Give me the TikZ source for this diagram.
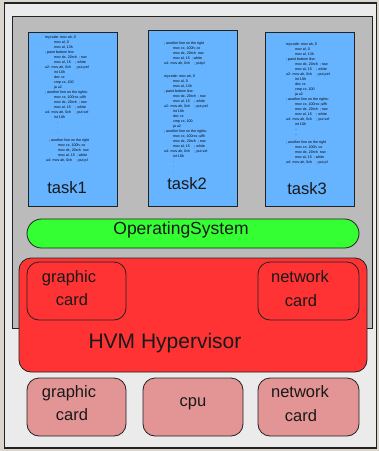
\documentclass[tikz,border=0pt]{standalone}
\usepackage{fontspec}
\setmainfont{Liberation Sans}
\definecolor{bgout}{HTML}{DAD6CE}
\definecolor{frame}{HTML}{EBEBEB}
\definecolor{grayarea}{HTML}{BBBBBB}
\definecolor{taskblue}{HTML}{66B3FF}
\definecolor{osgreen}{HTML}{33FF33}
\definecolor{hvred}{HTML}{FF3333}
\definecolor{hwpink}{HTML}{E39494}
\definecolor{edge}{HTML}{222222}
\newcommand{\ind}{\hspace*{9pt}}
\newcommand{\codefont}{\fontsize{3.6pt}{5pt}\selectfont}
\tikzset{
  taskbox/.style={draw=edge, line width=1pt, fill=taskblue},
  codetext/.style={anchor=base west, inner sep=0pt, text=black},
  biglabel/.style={anchor=base, inner sep=0pt, text=black!90},
  cardbox/.style={draw=edge, line width=0.8pt, rounded corners=12pt},
}
\begin{document}
\begin{tikzpicture}[x=1pt, y=-1pt]
\useasboundingbox (0,0) rectangle (379,451);
\fill[bgout] (0,0) rectangle (379,451);
% outer frame and gray area
\draw[fill=frame, draw=edge, line width=1.2pt] (4.5,3) rectangle (376.5,448);
\draw[fill=grayarea, draw=edge, line width=1pt] (12.5,16) rectangle (372,328);
% tasks
\draw[taskbox] (28,32) rectangle (117,206);
\draw[taskbox] (148,30) rectangle (237,206);
\draw[taskbox] (265,32) rectangle (354,206);
\coordinate (c1) at (45,38.5);
\coordinate (c2) at (164,44.5);
\coordinate (c3) at (286,45.5);
\node[codetext] (code1) at (c1) {\parbox[t]{70pt}{\codefont
mycode: mov ah, 0\\
\ind mov al, 0\\
\ind mov al, 13h\\
; paint bottom line:\\
\ind mov dx, 20rch \ ; row\\
\ind mov al, 15 \quad ; white\\
u2: mov ah, 0ch \quad ; put pel\\
\ind int 10h\\
\ind dec cx\\
\ind cmp cx, 100\\
\ind ja u2\\
; another line on the rights:\\
\ind mov cx, 100rcx ;ulfh\\
\ind mov dx, 20rch \ ; row\\
\ind mov al, 15 \quad ; white\\
u4: mov ah, 0ch \quad ; put sel\\
\ind int 10h\\
\hspace*{12pt}.\\
\hspace*{12pt}.\\
\hspace*{12pt}.\\[2.5pt]
\hspace*{4pt}; another line on the right\\
\hspace*{13pt}mov cx, 100h; co\\
\hspace*{13pt}mov dx, 20rch \ row\\
\hspace*{13pt}mov al, 15 \ ; white\\
\hspace*{1pt}u4: mov ah, 0ch \quad ; put pl}};
\node[codetext] (code2) at (c2) {\parbox[t]{70pt}{\codefont
; another line on the right\\
\ind mov cx, 100h; co\\
\ind mov dx, 20rch \ row\\
\ind mov al, 15 \ ; white\\
u4: mov ah, 0ch \quad ; putpl\\[8.3pt]
mycode: mov ah, 0\\
\ind mov al, 0\\
\ind mov al, 13h\\
; paint bottom line:\\
\ind mov dx, 20rch \ ; row\\
\ind mov al, 15 \quad ; white\\
u2: mov ah, 0ch \quad ; put pel\\
\ind int 10h\\
\ind dec cx\\
\ind cmp cx, 100\\
\ind ja u2\\
; another line on the rights:\\
\ind mov cx, 100rcx ;ulfh\\
\ind mov dx, 20rch \ ; row\\
\ind mov al, 15 \quad ; white\\
u4: mov ah, 0ch \quad ; put sel\\
\ind int 10h\\
\ind .\\
\ind .\\
\ind .}};
\node[codetext] (code3) at (c3) {\parbox[t]{70pt}{\codefont
mycode: mov ah, 0\\
\ind mov al, 0\\
\ind mov al, 13h\\
; paint bottom line:\\
\ind mov dx, 20rch \ ; row\\
\ind mov al, 15 \quad ; white\\
u2: mov ah, 0ch \quad ; put pel\\
\ind int 10h\\
\ind dec cx\\
\ind cmp cx, 100\\
\ind ja u2\\
; another line on the rights:\\
\ind mov cx, 100rcx ;ulfh\\
\ind mov dx, 20rch \ ; row\\
\ind mov al, 15 \quad ; white\\
u4: mov ah, 0ch \quad ; put sel\\
\ind int 10h\\
\ind ..\\
\ind ..\\[2.5pt]
; another line on the right\\
\ind mov cx, 100h; co\\
\ind mov dx, 20rch \ row\\
\ind mov al, 15 \ ; white\\
u4: mov ah, 0ch \quad ; put pl}};
\node[biglabel, font=\fontsize{16.5pt}{18pt}\selectfont] (t1) at (67,193) {task1};
\node[biglabel, font=\fontsize{16.5pt}{18pt}\selectfont] (t2) at (187,189) {task2};
\node[biglabel, font=\fontsize{16.5pt}{18pt}\selectfont] (t3) at (307,194) {task3};
% operating system
\draw[fill=osgreen, draw=edge, line width=0.8pt, rounded corners=14.5pt] (27,219) rectangle (359,248);
\node[biglabel, font=\fontsize{17.5pt}{19pt}\selectfont] (os) at (181,234) {OperatingSystem};
% hypervisor
\draw[cardbox, fill=hvred] (19,258) rectangle (367,372);
\draw[cardbox, fill=hvred] (27,262) rectangle (126,320);
\draw[cardbox, fill=hvred] (258,262) rectangle (359,320);
\node[biglabel, font=\fontsize{16.5pt}{18pt}\selectfont] (g1a) at (69,282) {graphic};
\node[biglabel, font=\fontsize{16.5pt}{18pt}\selectfont] (g1b) at (72,305) {card};
\node[biglabel, font=\fontsize{16.5pt}{18pt}\selectfont] (n1a) at (300,282) {network};
\node[biglabel, font=\fontsize{16.5pt}{18pt}\selectfont] (n1b) at (301,306) {card};
\node[biglabel, font=\fontsize{21pt}{23pt}\selectfont] (hv) at (165,348) {HVM Hypervisor};
% hardware
\draw[cardbox, fill=hwpink] (27,378) rectangle (126,436);
\draw[cardbox, fill=hwpink] (143,378) rectangle (243,436);
\draw[cardbox, fill=hwpink] (258,378) rectangle (359,436);
\node[biglabel, font=\fontsize{16.5pt}{18pt}\selectfont] (g2a) at (69,397) {graphic};
\node[biglabel, font=\fontsize{16.5pt}{18pt}\selectfont] (g2b) at (72,420) {card};
\node[biglabel, font=\fontsize{16.5pt}{18pt}\selectfont] (cpu) at (193,406) {cpu};
\node[biglabel, font=\fontsize{16.5pt}{18pt}\selectfont] (n2a) at (300,397) {network};
\node[biglabel, font=\fontsize{16.5pt}{18pt}\selectfont] (n2b) at (301,421) {card};
\end{tikzpicture}
\end{document}
